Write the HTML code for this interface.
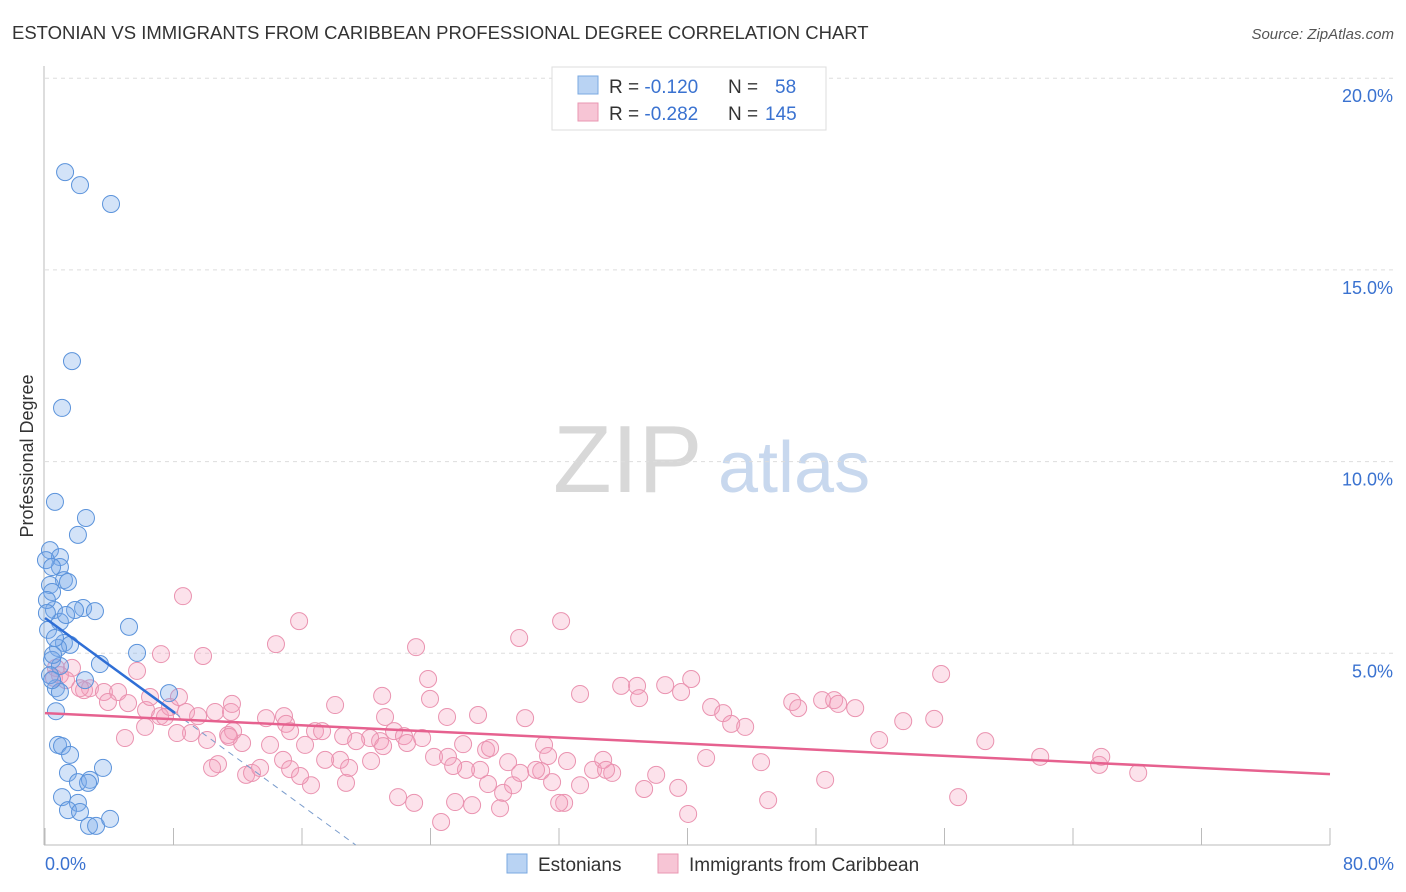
<!DOCTYPE html>
<html><head><meta charset="utf-8">
<style>
body{margin:0;background:#fff;font-family:"Liberation Sans",sans-serif;}
#wrap{position:relative;width:1406px;height:892px;overflow:hidden;}
svg text{font-family:"Liberation Sans",sans-serif;}
</style></head>
<body>
<div id="wrap">
<svg id="chart" width="1406" height="892">
  <text x="12" y="39" font-size="18.5" fill="#333">ESTONIAN VS IMMIGRANTS FROM CARIBBEAN PROFESSIONAL DEGREE CORRELATION CHART</text>
  <text x="1394" y="39" font-size="15" fill="#555" font-style="italic" text-anchor="end">Source: ZipAtlas.com</text>
  <text x="33" y="456" font-size="18" fill="#333" text-anchor="middle" transform="rotate(-90 33 456)">Professional Degree</text>
  <text x="553" y="492" font-size="96" fill="#d8d8d8" font-family="Liberation Serif">ZIP</text>
  <text x="718" y="492" font-size="72" fill="#c8d8ee">atlas</text>
  <g id="grid"></g>
  <g id="axes"></g>
  <g id="pink"></g>
  <g id="blue"></g>
  <g id="lines"></g>
  <g>
    <rect x="552" y="67" width="274" height="63" fill="#fff" stroke="#ddd"/>
    <rect x="578" y="76" width="20" height="18" fill="#b9d3f3" stroke="#7aa8e0"/>
    <rect x="578" y="103" width="20" height="18" fill="#f7c5d5" stroke="#ea97b2"/>
    <text x="609" y="93" font-size="19" fill="#333">R = <tspan fill="#3a72d0">-0.120</tspan><tspan x="728">N = </tspan><tspan x="775" fill="#3a72d0">58</tspan></text>
    <text x="609" y="120" font-size="19" fill="#333">R = <tspan fill="#3a72d0">-0.282</tspan><tspan x="728">N = </tspan><tspan x="765" fill="#3a72d0">145</tspan></text>
  </g>
  <g>
    <rect x="507" y="854" width="20" height="19" fill="#b9d3f3" stroke="#7aa8e0"/>
    <text x="538" y="871" font-size="19" fill="#333">Estonians</text>
    <rect x="658" y="854" width="20" height="19" fill="#f7c5d5" stroke="#ea97b2"/>
    <text x="689" y="871" font-size="19" fill="#333">Immigrants from Caribbean</text>
  </g>
</svg>
</div>
<script>
const yTicks=[5,10,15,20];
const yTickLabels=["5.0%","10.0%","15.0%","20.0%"];
const xTicks=[0,8,16,24,32,40,48,56,64,72,80];
const xEndLabels=["0.0%","80.0%"];
const blueX=[1.25,2.18,4.11,1.68,1.06,0.62,2.55,2.05,0.31,0.93,0.93,1.18,1.43,0.31,0.44,0.56,2.37,1.87,0.93,5.23,0.19,1.18,1.56,0.81,5.73,3.42,0.44,0.93,2.49,0.68,0.93,7.72,0.68,0.81,1.06,1.56,1.43,3.61,2.05,2.80,2.68,1.06,2.05,1.43,2.18,2.74,3.18,4.05,0.5,0.31,0.12,0.12,0.44,0.06,0.44,3.11,1.31,0.62];
const blueY=[17.55,17.21,16.72,12.62,11.40,8.95,8.53,8.09,7.69,7.51,7.25,6.91,6.86,6.78,6.60,6.13,6.18,6.13,5.82,5.69,5.61,5.27,5.22,5.14,5.01,4.72,4.83,4.67,4.30,4.09,3.99,3.96,3.49,2.61,2.58,2.35,1.88,2.01,1.64,1.70,1.62,1.25,1.10,0.91,0.86,0.50,0.50,0.68,4.96,4.43,6.39,6.05,4.30,7.43,7.25,6.10,6.0,5.4];
const pinkX=[8.59,15.82,29.52,32.13,23.10,14.38,9.84,7.22,5.73,23.85,55.79,0.68,1.68,0.93,0.56,1.31,2.43,2.80,3.67,4.55,2.18,3.92,5.17,6.29,7.16,7.78,8.78,9.53,10.59,11.58,11.64,13.76,14.88,15.01,18.06,20.99,23.97,21.17,25.03,26.96,29.89,33.31,35.87,36.86,36.99,38.61,39.60,40.23,41.47,42.22,42.72,43.59,46.52,46.89,48.38,49.13,49.38,50.44,53.43,55.36,51.93,58.54,61.96,65.63,65.76,68.06,56.85,48.57,45.02,40.04,39.42,38.05,37.30,35.31,34.75,34.12,32.50,30.89,31.57,32.32,28.52,28.33,27.58,27.09,26.21,25.41,24.22,26.03,27.46,27.71,28.83,29.14,30.57,32.01,24.66,26.59,25.53,22.98,21.98,20.30,20.86,21.73,22.35,22.54,23.48,18.37,18.74,18.93,17.44,16.19,16.81,17.25,18.56,14.82,15.26,16.56,15.88,12.27,12.52,12.89,13.39,11.40,11.71,10.77,10.40,10.09,9.09,8.22,7.47,6.23,4.98,6.54,8.34,14.01,20.24,21.05,31.07,31.32,41.16,44.58,33.31,29.58,34.93,11.46,15.26,19.37,25.09];
const pinkY=[6.49,5.84,5.40,5.84,5.16,5.24,4.93,4.98,4.54,4.33,4.46,4.62,4.62,4.43,4.36,4.30,4.04,4.09,3.99,3.99,4.09,3.73,3.70,3.52,3.36,3.60,3.47,3.36,3.47,3.47,3.68,3.31,3.36,3.16,3.65,3.89,3.81,3.34,3.34,3.39,3.31,3.94,4.15,4.15,3.83,4.17,3.99,4.33,3.60,3.44,3.16,3.08,3.73,3.57,3.78,3.78,3.68,3.57,3.23,3.29,2.74,2.71,2.30,2.09,2.30,1.88,1.25,1.70,1.17,0.81,1.49,1.83,1.46,1.88,2.22,1.96,2.19,1.93,1.64,1.10,1.36,0.96,1.59,1.96,1.96,2.06,2.30,2.63,2.48,2.53,2.16,1.56,1.96,1.10,0.60,1.04,1.12,1.10,1.25,2.19,2.71,2.97,2.84,2.66,2.79,2.22,1.62,2.01,2.22,2.61,2.97,2.97,2.84,2.22,1.98,1.56,1.80,2.66,1.83,1.88,2.01,2.87,2.97,2.11,2.01,2.74,2.92,2.92,3.34,3.08,2.79,3.86,3.86,2.61,2.79,2.58,2.61,2.32,2.27,2.16,1.56,1.88,1.96,2.82,2.97,2.71,2.30];
const blueTrend=[5.92,-0.306];
const pinkTrend=[3.44,-0.0199];
const X0=45,X1=1330,Y0=845,Ypx5=191.7;
function sx(v){return X0+v*(X1-X0)/80;}
function sy(v){return Y0-v*Ypx5/5;}
const NS="http://www.w3.org/2000/svg";
function mk(tag,attrs,parent){const e=document.createElementNS(NS,tag);for(const k in attrs)e.setAttribute(k,attrs[k]);parent.appendChild(e);return e;}
const grid=document.getElementById('grid'),axes=document.getElementById('axes');
yTicks.forEach((t,i)=>{
  const l=mk('line',{x1:45,x2:1394,y1:sy(t),y2:sy(t),stroke:'#ddd','stroke-dasharray':'4,4'},grid);
  
  
  const tx=mk('text',{x:1393,y:sy(t)+24,'font-size':18,fill:'#3a72d0','text-anchor':'end'},grid);
  tx.textContent=yTickLabels[i];
  
  
});
const ya=mk('line',{x1:44,x2:44,y1:66,y2:845,stroke:'#bbb'},axes);


const xa=mk('line',{x1:44,x2:1330,y1:845,y2:845,stroke:'#bbb'},axes);


xTicks.forEach(t=>{
  const l=mk('line',{x1:sx(t),x2:sx(t),y1:828,y2:845,stroke:'#bbb'},axes);
  
  
});
[[0,'start',45],[80,'end',1394]].forEach((d,i)=>{
  const tx=mk('text',{x:d[2],y:870,'font-size':18,fill:'#3a72d0','text-anchor':d[1]},axes);
  tx.textContent=xEndLabels[i];
  
  
});
const pg=document.getElementById('pink');
pinkX.forEach((x,i)=>{
  const c=mk('circle',{cx:sx(x),cy:sy(pinkY[i]),r:8.5,fill:'rgba(244,160,188,0.3)',stroke:'#ea93b0','stroke-width':1},pg);
  
  
});
const bg=document.getElementById('blue');
blueX.forEach((x,i)=>{
  const c=mk('circle',{cx:sx(x),cy:sy(blueY[i]),r:8.5,fill:'rgba(120,170,235,0.33)',stroke:'#5b93db','stroke-width':1},bg);
  
  
});
const lg=document.getElementById('lines');
const bEnd=8.1, bZero=-blueTrend[0]/blueTrend[1];
const bl=mk('line',{x1:sx(0),y1:sy(blueTrend[0]),x2:sx(bEnd),y2:sy(blueTrend[0]+blueTrend[1]*bEnd),stroke:'#2f6fd6','stroke-width':2.5},lg);


const bd=mk('line',{x1:sx(bEnd),y1:sy(blueTrend[0]+blueTrend[1]*bEnd),x2:sx(bZero),y2:sy(0),stroke:'#7a9ccc','stroke-width':1,'stroke-dasharray':'6,5'},lg);


const pl=mk('line',{x1:sx(0),y1:sy(pinkTrend[0]),x2:sx(80),y2:sy(pinkTrend[0]+pinkTrend[1]*80),stroke:'#e6618f','stroke-width':2.5},lg);


</script>
</body></html>
